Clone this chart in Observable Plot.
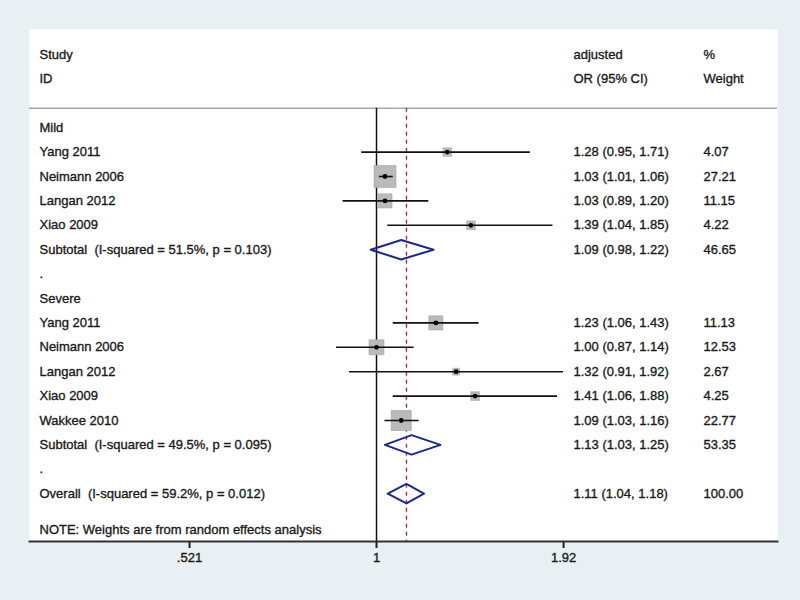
<!DOCTYPE html>
<html><head><meta charset="utf-8">
<script src="https://cdn.jsdelivr.net/npm/d3@7"></script>
<script src="https://cdn.jsdelivr.net/npm/@observablehq/plot@0.6"></script>
<style>body{margin:0;background:#e8f0f3;}</style>
</head><body><div id="chart"></div>
<script>
// Individual studies
const studies = ["Yang 2011","Neimann 2006","Langan 2012","Xiao 2009","Yang 2011","Neimann 2006","Langan 2012","Xiao 2009","Wakkee 2010"];
const studyRows = [4,5,6,7,11,12,13,14,15];
const estimates = [1.28,1.03,1.03,1.39,1.23,1.00,1.32,1.41,1.09];
const lowers = [0.95,1.01,0.89,1.04,1.06,0.87,0.91,1.06,1.03];
const uppers = [1.71,1.06,1.20,1.85,1.43,1.14,1.92,1.88,1.16];
const weights = [4.07,27.21,11.15,4.22,11.13,12.53,2.67,4.25,22.77];

// Pooled estimates
const pooledLabels = ["Subtotal  (I-squared = 51.5%, p = 0.103)","Subtotal  (I-squared = 49.5%, p = 0.095)","Overall  (I-squared = 59.2%, p = 0.012)"];
const pooledRows = [8,16,18];
const pooledEst = [1.09,1.13,1.11];
const pooledLo = [0.98,1.03,1.04];
const pooledHi = [1.22,1.25,1.18];
const pooledWeights = [46.65,53.35,100.00];

// Group labels, spacers, header
const groupLabels = ["Mild","Severe"];
const groupRows = [3,10];
const spacerRows = [9,17];
const headerRows = [0,1];
const headerStudy = ["Study","ID"];
const headerOR = ["adjusted","OR (95% CI)"];
const headerWeight = ["%","Weight"];
const noteText = ["NOTE: Weights are from random effects analysis"];
const noteRows = [19.5];

// Axis ticks
const tickValues = [0.521, 1, 1.92];
const tickLabels = [".521", "1", "1.92"];

const fmt = v => v.toFixed(2);
const ciText = (e, l, h) => `${fmt(e)} (${fmt(l)}, ${fmt(h)})`;

const studyData = studies.map((s, i) => ({
  label: s, row: studyRows[i], est: estimates[i], lo: lowers[i], hi: uppers[i], w: weights[i],
  ci: ciText(estimates[i], lowers[i], uppers[i]), wt: fmt(weights[i])
}));
const pooledData = pooledLabels.map((s, i) => ({
  label: s, row: pooledRows[i], est: pooledEst[i], lo: pooledLo[i], hi: pooledHi[i],
  ci: ciText(pooledEst[i], pooledLo[i], pooledHi[i]), wt: fmt(pooledWeights[i])
}));
const halfH = 0.4;
const diamondPts = pooledData.flatMap((d, k) => [
  {k, x: d.lo, y: d.row}, {k, x: d.est, y: d.row - halfH},
  {k, x: d.hi, y: d.row}, {k, x: d.est, y: d.row + halfH}, {k, x: d.lo, y: d.row}
]);
const headerData = headerRows.map((r, i) => ({row: r, a: headerStudy[i], b: headerOR[i], c: headerWeight[i]}));
const leftLabels = [
  ...groupLabels.map((g, i) => ({label: g, row: groupRows[i]})),
  ...spacerRows.map(r => ({label: ".", row: r})),
  ...noteText.map((t, i) => ({label: t, row: noteRows[i]}))
];
const tickData = tickValues.map((v, i) => ({v, label: tickLabels[i]}));

const yDomain = [-1.025, 19.96];
const sepRow = 2.2;
const overall = pooledEst[2];
const FONT = "'Liberation Sans', Arial, Helvetica, sans-serif";
const txt = "#1a1a1a";
const T = {textAnchor: "start", fill: txt, stroke: txt, strokeWidth: 0.35};

const chart = Plot.plot({
  width: 800, height: 600,
  marginLeft: 29, marginRight: 23, marginTop: 29, marginBottom: 59,
  style: {background: "#e8f0f3", fontFamily: FONT, fontSize: "13px", color: txt},
  x: {type: "log", domain: [0.2982, 4.048]},
  y: {domain: yDomain, reverse: true, axis: null},
  r: {type: "sqrt", domain: [0, 27.21], range: [0, 22 / Math.sqrt(Math.PI)]},
  marks: [
    Plot.frame({fill: "white", stroke: null}),
    Plot.ruleY([sepRow], {stroke: "#a8a8a8", strokeWidth: 1.5}),
    Plot.ruleX([1], {y1: sepRow, y2: yDomain[1], stroke: "#111", strokeWidth: 1.5}),
    Plot.ruleX([overall], {y1: sepRow, y2: yDomain[1], stroke: "#b5303c", strokeWidth: 1.4, strokeDasharray: "4,4"}),
    // weight squares
    Plot.dot(studyData, {x: "est", y: "row", r: "w", symbol: "square", fill: "#bababa", stroke: "#a5a5a5", strokeWidth: 0.6}),
    // CI lines
    Plot.ruleY(studyData, {y: "row", x1: "lo", x2: "hi", stroke: "#111", strokeWidth: 1.6}),
    Plot.dot(studyData, {x: "est", y: "row", r: 2.4, fill: "#000"}),
    // diamonds
    Plot.line(diamondPts, {x: "x", y: "y", z: "k", stroke: "#1c2a85", strokeWidth: 2, fill: "none", curve: "linear"}),
    // text columns
    Plot.text(headerData, {y: "row", text: "a", frameAnchor: "left", dx: 10, ...T}),
    Plot.text(headerData, {y: "row", text: "b", frameAnchor: "right", dx: -204, ...T}),
    Plot.text(headerData, {y: "row", text: "c", frameAnchor: "right", dx: -74, ...T}),
    Plot.text(studyData, {y: "row", text: "label", frameAnchor: "left", dx: 10, ...T}),
    Plot.text(pooledData, {y: "row", text: "label", frameAnchor: "left", dx: 10, ...T}),
    Plot.text(leftLabels, {y: "row", text: "label", frameAnchor: "left", dx: 10, ...T}),
    Plot.text(studyData, {y: "row", text: "ci", frameAnchor: "right", dx: -204, ...T}),
    Plot.text(pooledData, {y: "row", text: "ci", frameAnchor: "right", dx: -204, ...T}),
    Plot.text(studyData, {y: "row", text: "wt", frameAnchor: "right", dx: -74, ...T}),
    Plot.text(pooledData, {y: "row", text: "wt", frameAnchor: "right", dx: -74, ...T}),
    // axis
    Plot.frame({anchor: "bottom", stroke: "#333", strokeWidth: 2}),
    Plot.axisX({ticks: tickValues, tickSize: 7, text: null, stroke: "#222", strokeWidth: 2, label: null}),
    Plot.text(tickData, {x: "v", text: "label", frameAnchor: "bottom", dy: 20, textAnchor: "middle", fill: txt, stroke: txt, strokeWidth: 0.35})
  ]
});
document.getElementById("chart").appendChild(chart);
</script>
</body></html>
